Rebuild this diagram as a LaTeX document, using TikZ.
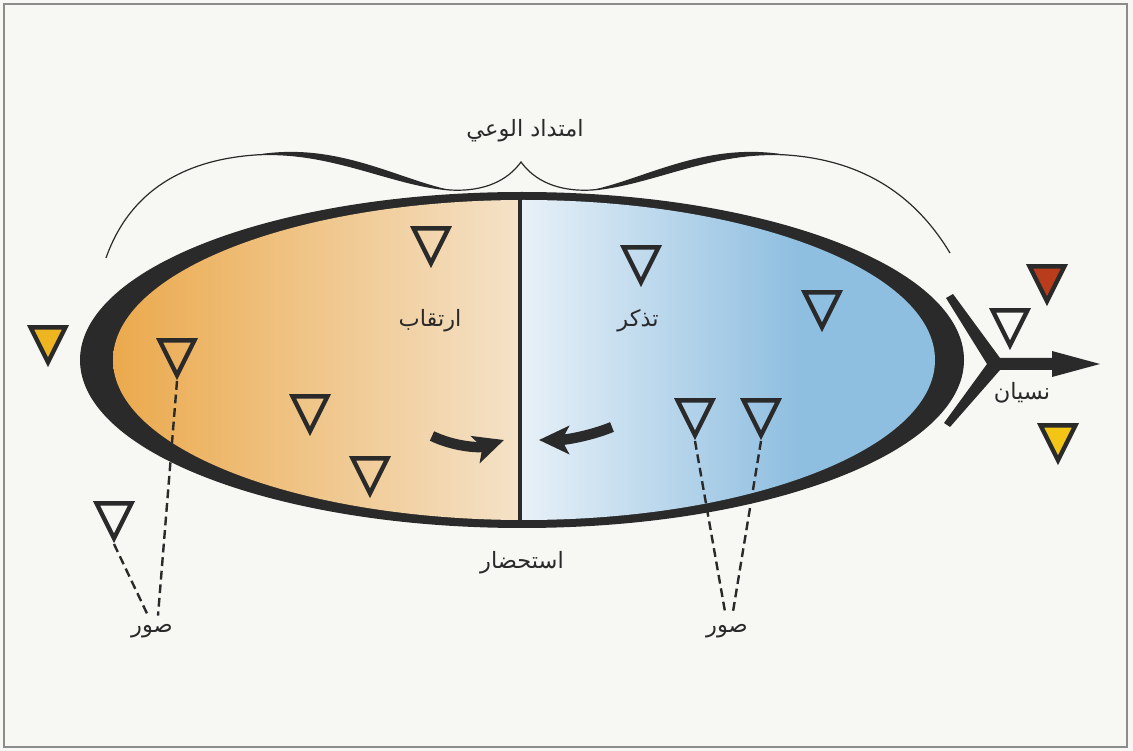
\documentclass[tikz,border=0pt]{standalone}
\usepackage{fontspec}
\newfontfamily\arabicfont[Script=Arabic]{DejaVu Sans}
\TeXXeTstate=1
\usetikzlibrary{arrows.meta,shapes.geometric}
\definecolor{paper}{HTML}{F7F7F3}
\definecolor{frame}{HTML}{8C8C8C}
\definecolor{ink}{HTML}{2A2A2A}
\definecolor{amber}{HTML}{EBA94C}
\definecolor{amberpale}{HTML}{F4E2C8}
\definecolor{sky}{HTML}{8EBEE0}
\definecolor{skypale}{HTML}{E8F1F8}
\definecolor{gold}{HTML}{EDB520}
\definecolor{rust}{HTML}{B93C1C}
\definecolor{lemon}{HTML}{F2C516}

\begin{document}
\begin{tikzpicture}[
    x=0.25mm,
    y=-0.25mm,
    text=ink,
    label/.style={font=\arabicfont\fontsize{16}{18}\selectfont, anchor=base, inner sep=1mm},
    marker/.style={
        isosceles triangle,
        isosceles triangle stretches,
        shape border rotate=270,
        minimum width=8.7mm,
        minimum height=8.7mm,
        inner sep=0pt,
        draw=ink,
        line width=1.1mm,
        line join=miter,
        anchor=apex
    },
    link/.style={draw=ink, line width=0.6mm, dash pattern=on 2.2mm off 1.2mm},
    swing/.style={draw=ink, line width=2.6mm, -{Stealth[length=7.5mm,width=7mm,inset=1.8mm]}}
]

% Page and frame.
\fill[paper] (0,0) rectangle (1133,751);
\useasboundingbox (0,0) rectangle (1133,751);
\draw[frame, line width=0.4mm] (4,4) rectangle (1127,747);

% Brace over the field of awareness.
\draw[ink, line width=0.3mm] (106,258) .. controls (130,190) and (185,160) .. (255,155)
    .. controls (330,150) and (390,185) .. (450,190)
    .. controls (485,192) and (508,180) .. (521,162)
    .. controls (534,180) and (557,192) .. (592,190)
    .. controls (652,185) and (712,150) .. (787,155)
    .. controls (857,160) and (912,190) .. (950,253);
\fill[ink] (255,155) .. controls (330,150) and (390,185) .. (450,190)
    .. controls (395,178) and (335,141) .. (255,155) -- cycle;
\fill[ink] (787,155) .. controls (712,150) and (652,185) .. (592,190)
    .. controls (647,178) and (707,141) .. (787,155) -- cycle;
\node[label] (spanTxt) at (525,137) {\beginR امتداد الوعي\endR};

% The field: black rim, two shaded halves, divider.
\fill[ink] (522,360) ellipse [x radius=442, y radius=168];
\begin{scope}
    \clip (524,360) ellipse [x radius=411, y radius=160];
    \shade[left color=amber, right color=amberpale] (110,190) rectangle (520,530);
    \shade[left color=skypale, right color=sky] (520,190) rectangle (800,530);
    \fill[sky] (799,190) rectangle (940,530);
\end{scope}
\draw[ink, line width=1mm] (520,192) -- (520,528);

\node[label] (waitTxt) at (430,327) {\beginR ارتقاب\endR};
\node[label] (recallTxt) at (638,327) {\beginR تذكر\endR};
\node[label] (evokeTxt) at (522,568) {\beginR استحضار\endR};

% Images waiting to come in (left half).
\node[marker, fill=gold] (driftL) at (48,368) {};
\node[marker] (expectA) at (177,381) {};
\node[marker] (expectB) at (310,437) {};
\node[marker] (expectC) at (370,499) {};
\node[marker] (expectD) at (431,269) {};
\node[marker] (looseL) at (114,544) {};

% Images being recalled (right half).
\node[marker] (recallA) at (641,288) {};
\node[marker] (recallB) at (822,333) {};
\node[marker] (recallC) at (695,441) {};
\node[marker] (recallD) at (761,441) {};

% Images leaving the field.
\node[marker, fill=rust] (lostA) at (1047,307) {};
\node[marker] (lostB) at (1010,351) {};
\node[marker, fill=lemon] (lostC) at (1058,466) {};

% Both halves flow into the present.
\draw[swing] (432,436) .. controls (455,447) and (480,448) .. (504,440);
\draw[swing] (612,427) .. controls (590,436) and (565,440) .. (539,440);

% Forgetting: the fork and its arrow.
\fill[ink] (946,298) -- (953,294) -- (1000,358) -- (1052,358) -- (1052,351)
    -- (1100,364) -- (1052,377) -- (1052,370) -- (1000,370) -- (950,427)
    -- (944,423) -- (987,364) -- cycle;
\node[label] (forgetTxt) at (1022,400) {\beginR نسيان\endR};

% Labels for the images.
\node[label] (imgL) at (152,632) {\beginR صور\endR};
\node[label] (imgR) at (727,632) {\beginR صور\endR};
\draw[link] (expectA.apex) -- ([xshift=1.5mm,yshift=1mm]imgL.north);
\draw[link] (looseL.apex) -- ([xshift=-1mm,yshift=1mm]imgL.north);
\draw[link] (recallC.apex) -- ([xshift=-0.5mm,yshift=2mm]imgR.north);
\draw[link] (recallD.apex) -- ([xshift=1.5mm,yshift=2mm]imgR.north);

\end{tikzpicture}
\end{document}
